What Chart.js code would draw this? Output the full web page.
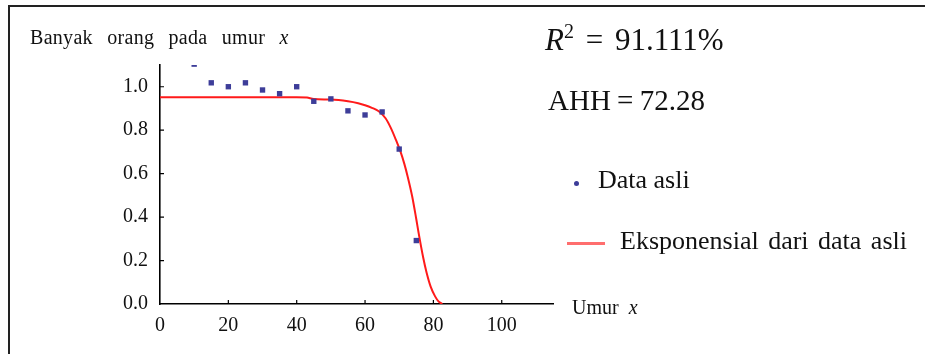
<!DOCTYPE html>
<html>
<head>
<meta charset="utf-8">
<script src="https://cdn.jsdelivr.net/npm/chart.js@4/dist/chart.umd.min.js"></script>
<style>
  body { margin: 0; background: #fff; }
  #wrap { position: relative; width: 925px; height: 354px; overflow: hidden; font-family: 'Liberation Serif', serif; color: #111; }
  #frame { position: absolute; left: 8px; top: 5px; width: 1000px; height: 400px; border-left: 2px solid #222; border-top: 2px solid #222; }
  canvas { position: absolute; left: 0; top: 0; }
  .txt { position: absolute; white-space: nowrap; }
  .sw { position: absolute; }
</style>
</head>
<body>
<div id="wrap">
  <div id="frame"></div>
  <canvas id="lifeChart" width="925" height="354"></canvas>
  <div class="txt" style="left:30px;top:27px;font-size:20px;line-height:20px;letter-spacing:0.3px;word-spacing:9px;">Banyak orang pada umur <i>x</i></div>
  <div class="txt" style="left:572px;top:297px;font-size:20px;line-height:20px;word-spacing:5px;">Umur <i>x</i></div>
  <div class="txt" style="left:545px;top:24px;font-size:31px;line-height:31px;word-spacing:4px;"><i>R</i><sup style="font-size:20px;vertical-align:12px;line-height:0">2</sup> = 91.111%</div>
  <div class="txt" style="left:548px;top:86px;font-size:29px;line-height:29px;word-spacing:-1px;">AHH = 72.28</div>
  <div id="legend"></div>
</div>
<script>
// data
const ages = [10, 15, 20, 25, 30, 35, 40, 45, 50, 55, 60, 65, 70, 75];
const survivors = [1.104, 1.018, 1.0, 1.018, 0.985, 0.968, 1.0, 0.933, 0.944, 0.889, 0.87, 0.884, 0.713, 0.292];

// fitted curve, points
const fitAges = [0, 10, 20, 30, 40, 43, 45, 50, 55, 58, 60, 62, 64, 66, 67.5, 69, 70.4, 71.5, 72.5, 73.8, 75, 75.7, 77, 78, 79.2, 80.5, 81.5, 82.6];
const fitValues = [0.952, 0.952, 0.952, 0.952, 0.952, 0.950, 0.943, 0.941, 0.933, 0.924, 0.915, 0.903, 0.887, 0.855, 0.812, 0.757, 0.70, 0.645, 0.585, 0.495, 0.39, 0.325, 0.215, 0.145, 0.08, 0.035, 0.012, 0];

const xTicks = [0, 20, 40, 60, 80, 100];
const yTicks = [0, 0.2, 0.4, 0.6, 0.8, 1.0];

const pointColor = '#3d3d99';
const fitColor = '#ff1a1a';
const tickFont = { family: 'Liberation Serif', size: 20 };

// Mathematica style ticks pointing into the plot
const innerTicks = {
    id: 'innerTicks',
    afterDatasetsDraw(chart) {
        const { ctx, chartArea, scales } = chart;
        ctx.save();
        ctx.strokeStyle = '#000';
        ctx.lineWidth = 1.2;
        ctx.beginPath();
        xTicks.slice(1).forEach(v => {
            const px = scales.x.getPixelForValue(v);
            ctx.moveTo(px, chartArea.bottom);
            ctx.lineTo(px, chartArea.bottom - 4);
        });
        yTicks.slice(1).forEach(v => {
            const py = scales.y.getPixelForValue(v);
            ctx.moveTo(chartArea.left, py);
            ctx.lineTo(chartArea.left + 4, py);
        });
        ctx.stroke();
        ctx.restore();
    }
};

const ctx = document.getElementById('lifeChart').getContext('2d');
const lifeChart = new Chart(ctx, {
    type: 'scatter',
    data: {
        datasets: [{
            label: 'Data asli',
            data: ages.map((a, i) => ({ x: a, y: survivors[i] })),
            pointStyle: 'rect',
            pointRadius: 3.8,
            backgroundColor: pointColor,
            borderColor: pointColor,
            borderWidth: 0,
            clip: 0
        }, {
            label: 'Eksponensial dari data asli',
            type: 'line',
            data: fitAges.map((a, i) => ({ x: a, y: fitValues[i] })),
            borderColor: fitColor,
            borderWidth: 2,
            pointRadius: 0,
            cubicInterpolationMode: 'monotone',
            fill: false,
            clip: 0
        }]
    },
    options: {
        responsive: false,
        animation: false,
        layout: { padding: { left: 0, top: 65, right: 372, bottom: 0 } },
        scales: {
            x: {
                type: 'linear',
                min: 0,
                max: 115,
                afterBuildTicks: s => { s.ticks = xTicks.map(v => ({ value: v })); },
                afterFit: s => { s.height = 50; },
                border: { color: '#000', width: 1.6 },
                grid: { drawOnChartArea: false, drawTicks: false },
                ticks: { color: '#111', font: tickFont, padding: 10, maxRotation: 0 }
            },
            y: {
                min: 0,
                max: 1.1,
                afterBuildTicks: s => { s.ticks = yTicks.map(v => ({ value: v })); },
                afterFit: s => { s.width = 160; },
                border: { color: '#000', width: 1.6 },
                grid: { drawOnChartArea: false, drawTicks: false },
                ticks: { color: '#111', font: tickFont, padding: 12, callback: v => v.toFixed(1) }
            }
        },
        plugins: {
            legend: { display: false },
            tooltip: { enabled: false }
        }
    },
    plugins: [innerTicks]
});

// legend on the right, built from the dataset labels
const legend = document.getElementById('legend');
const sets = lifeChart.data.datasets;
legend.innerHTML =
    '<div class="sw" style="left:574px;top:181px;width:5px;height:5px;border-radius:50%;background:' + pointColor + '"></div>' +
    '<div class="txt" style="left:598px;top:167px;font-size:26px;line-height:26px;">' + sets[0].label + '</div>' +
    '<div class="sw" style="left:567px;top:242px;width:38px;height:3px;background:#ff6e6e"></div>' +
    '<div class="txt" style="left:620px;top:228px;font-size:26px;line-height:26px;word-spacing:3px;">' + sets[1].label + '</div>';
</script>
</body>
</html>
